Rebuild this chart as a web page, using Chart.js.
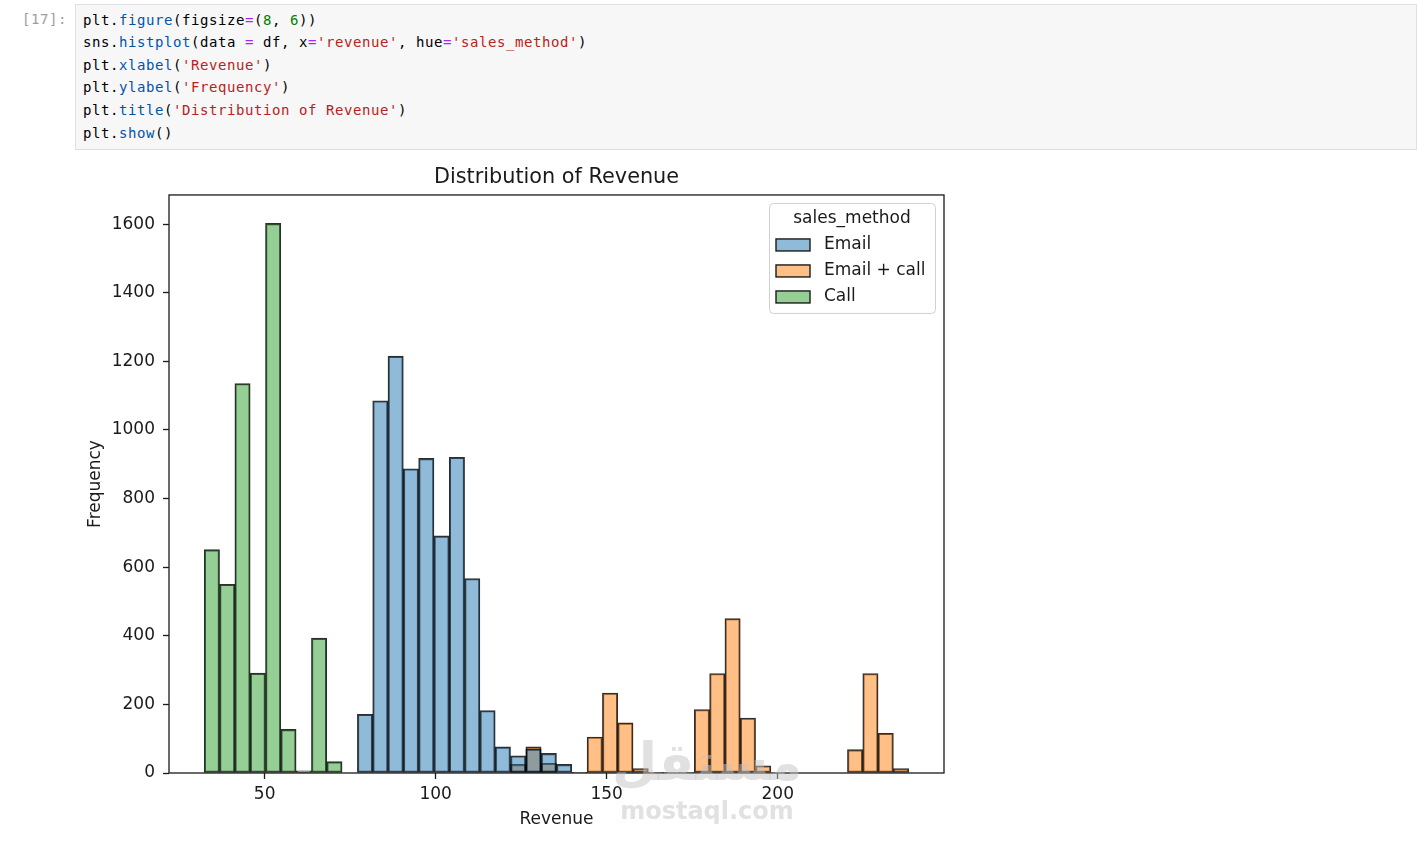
<!DOCTYPE html>
<html>
<head>
<meta charset="utf-8">
<script src="https://cdn.jsdelivr.net/npm/chart.js@4.4.1/dist/chart.umd.min.js"></script>
<style>
  body { margin: 0; background: #fff; width: 1417px; height: 843px; position: relative; overflow: hidden; }
  .mono { font-family: "DejaVu Sans Mono", monospace; font-size: 14px; letter-spacing: 0.57px; }
  .prompt { position: absolute; left: 22px; top: 8px; line-height: 22.6px; color: #9e9e9e; }
  .cell { position: absolute; left: 75px; top: 4px; right: 0; height: 146px; background: #f7f7f7;
          border: 1px solid #e0e0e0; padding: 3.7px 7px; box-sizing: border-box; }
  .cell pre { margin: 0; line-height: 22.6px; color: #000; }
  .p { color: #0055aa; } .o { color: #aa22ff; } .n { color: #008000; } .s { color: #ba2121; }
  #wrap { position: absolute; left: 60px; top: 155px; width: 900px; height: 680px; }
  .wm { position: absolute; font-family: "DejaVu Sans", sans-serif; font-weight: bold; color: rgba(195,195,195,0.5);
        pointer-events: none; text-align: center; width: 240px; }
</style>
</head>
<body>
<div class="prompt mono">[17]:</div>
<div class="cell"><pre class="mono">plt.<span class="p">figure</span>(figsize<span class="o">=</span>(<span class="n">8</span>, <span class="n">6</span>))
sns.<span class="p">histplot</span>(data <span class="o">=</span> df, x<span class="o">=</span><span class="s">'revenue'</span>, hue<span class="o">=</span><span class="s">'sales_method'</span>)
plt.<span class="p">xlabel</span>(<span class="s">'Revenue'</span>)
plt.<span class="p">ylabel</span>(<span class="s">'Frequency'</span>)
plt.<span class="p">title</span>(<span class="s">'Distribution of Revenue'</span>)
plt.<span class="p">show</span>()</pre></div>

<div id="wrap"><canvas id="chart" width="900" height="680"></canvas></div>

<div class="wm" style="left:587px; top:732px; font-size:52px; line-height:60px;">مستقل</div>
<div class="wm" style="left:587px; top:796px; font-size:24px; line-height:30px;">mostaql.com</div>

<script>
// histogram bins
const binStart = 32.34
const binWidth = 4.477

const seriesNames = ['Email', 'Email + call', 'Call']
const emailCounts = [
  0, 0, 0, 0, 0, 0, 0, 0, 0, 0,
  171, 1085, 1215, 887, 917, 691, 920, 567, 182, 76,
  50, 70, 57, 25, 2, 0, 0, 0, 0, 0,
  0, 0, 0, 0, 0, 0, 0, 0, 0, 0,
  0, 0, 0, 0, 0, 0
]
const emailCallCounts = [
  0, 0, 0, 0, 0, 0, 0, 0, 0, 0,
  0, 0, 0, 0, 0, 0, 0, 0, 0, 0,
  25, 76, 28, 0, 1, 105, 233, 146, 13, 2,
  0, 2, 185, 290, 450, 160, 21, 0, 0, 0,
  0, 0, 68, 290, 116, 13
]
const callCounts = [
  651, 550, 1135, 291, 1602, 127, 6, 393, 33, 0,
  0, 0, 0, 0, 0, 0, 0, 0, 0, 0,
  0, 0, 0, 0, 0, 0, 0, 0, 0, 0,
  0, 0, 0, 0, 0, 0, 0, 0, 0, 0,
  0, 0, 0, 0, 0, 0
]

const xTickValues = [50, 100, 150, 200]
const yTickValues = [0, 200, 400, 600, 800, 1000, 1200, 1400, 1600]
const xRange = [22.04, 248.6]
const yRange = [0, 1685]

const legendTitle = 'sales_method'
const FILLS = ['rgba(31,119,180,0.5)', 'rgba(255,127,14,0.5)', 'rgba(44,160,44,0.5)']
const FONT = '"DejaVu Sans", sans-serif'
const INK = '#1a1a1a'

const binCenters = emailCounts.map((_, i) => binStart + binWidth * (i + 0.5))
const toPoints = counts => counts.map((c, i) => ({ x: binCenters[i], y: c }))

// axes frame, drawn over bars like matplotlib spines
const framePlugin = {
  id: 'frame',
  afterDatasetsDraw(chart) {
    const { ctx, chartArea: a } = chart
    ctx.save()
    ctx.strokeStyle = INK
    ctx.lineWidth = 1.3
    ctx.strokeRect(a.left, a.top, a.right - a.left, a.bottom - a.top)
    ctx.restore()
  }
}

// matplotlib-style boxed legend in the upper right
const boxLegend = {
  id: 'boxLegend',
  afterDraw(chart) {
    const { ctx, chartArea: a } = chart
    const w = 166, h = 110
    const x = a.right - 9 - w, y = a.top + 8
    ctx.save()
    ctx.beginPath()
    ctx.roundRect(x + 0.5, y + 0.5, w, h, 4)
    ctx.fillStyle = 'rgba(255,255,255,0.8)'
    ctx.fill()
    ctx.strokeStyle = '#d0d0d0'
    ctx.lineWidth = 1
    ctx.stroke()

    ctx.font = `17px ${FONT}`
    ctx.fillStyle = INK
    ctx.textBaseline = 'middle'
    ctx.textAlign = 'center'
    ctx.fillText(legendTitle, x + w / 2, y + 16)

    ctx.textAlign = 'left'
    chart.data.datasets.forEach((ds, i) => {
      const cy = y + 42 + i * 26
      ctx.fillStyle = '#fff'
      ctx.fillRect(x + 7, cy - 6, 34, 12)
      ctx.fillStyle = ds.backgroundColor
      ctx.fillRect(x + 7, cy - 6, 34, 12)
      ctx.strokeStyle = INK
      ctx.lineWidth = 1.4
      ctx.strokeRect(x + 7, cy - 6, 34, 12)
      ctx.fillStyle = INK
      ctx.fillText(ds.label, x + 55, cy)
    })
    ctx.restore()
  }
}

const datasets = [emailCounts, emailCallCounts, callCounts].map((counts, i) => ({
  label: seriesNames[i],
  data: toPoints(counts),
  backgroundColor: FILLS[i],
  borderColor: 'rgba(0,0,0,0.82)',
  borderWidth: 1.4,
  borderSkipped: false,
  grouped: false,
  barPercentage: 1,
  categoryPercentage: 1
}))

const tickStyle = { font: { family: FONT, size: 17 }, color: INK }

new Chart(document.getElementById('chart'), {
  type: 'bar',
  data: { datasets },
  plugins: [framePlugin, boxLegend],
  options: {
    responsive: false,
    animation: false,
    layout: { padding: { left: 0, right: 16, top: 0, bottom: 0 } },
    plugins: {
      legend: { display: false },
      tooltip: { enabled: false },
      title: {
        display: true,
        fullSize: false,
        text: 'Distribution of Revenue',
        color: INK,
        font: { family: FONT, size: 20.8, weight: 'normal' },
        padding: { top: 10, bottom: 5 }
      }
    },
    scales: {
      x: {
        type: 'linear',
        offset: false,
        min: xRange[0], max: xRange[1],
        afterBuildTicks: s => { s.ticks = xTickValues.map(v => ({ value: v })) },
        afterFit: s => { s.height = 62 },
        ticks: { ...tickStyle, padding: 5, maxRotation: 0, autoSkip: false, callback: v => String(v) },
        grid: { offset: false, drawOnChartArea: false, drawTicks: true, tickLength: 6, tickWidth: 1.3, tickColor: INK },
        border: { display: false },
        title: { display: true, text: 'Revenue', color: INK, font: { family: FONT, size: 17 }, padding: { top: 0, bottom: 5 } }
      },
      y: {
        min: yRange[0], max: yRange[1],
        afterBuildTicks: s => { s.ticks = yTickValues.map(v => ({ value: v })) },
        afterFit: s => { s.width = 109 },
        ticks: { ...tickStyle, padding: 8, callback: v => String(v) },
        grid: { drawOnChartArea: false, drawTicks: true, tickLength: 6, tickWidth: 1.3, tickColor: INK },
        border: { display: false },
        title: { display: true, text: 'Frequency', color: INK, font: { family: FONT, size: 17 }, padding: { top: 25.8, bottom: 0 } }
      }
    }
  }
})
</script>
</body>
</html>
